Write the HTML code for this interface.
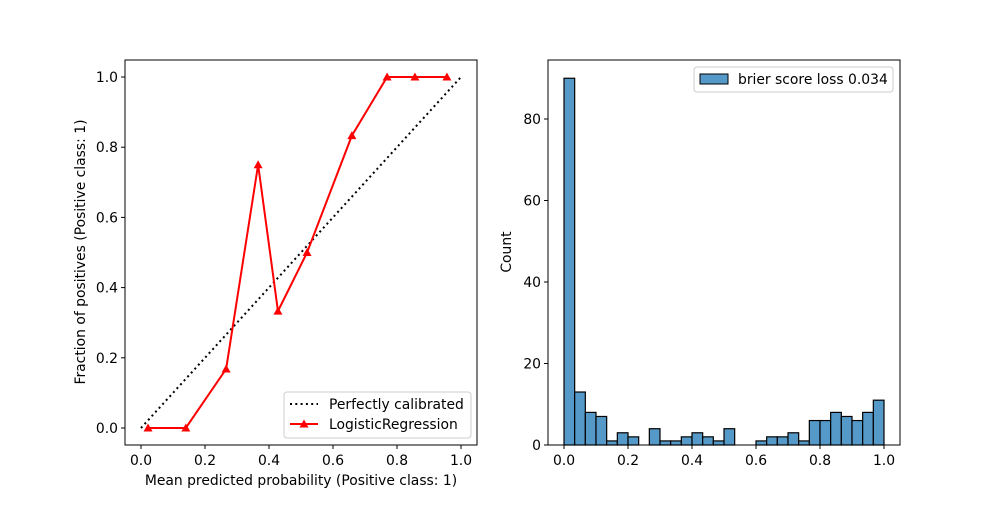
<!DOCTYPE html>
<html><head><meta charset="utf-8"><style>
body{margin:0;background:#fff}
text{font-family:"DejaVu Sans","Liberation Sans",sans-serif;font-size:13.9px;fill:#000}
</style></head><body>
<svg id="svg" width="1000" height="500" xmlns="http://www.w3.org/2000/svg">
<g id="left"></g>
<g id="right"></g>
</svg>
<script>
const calX=[0.022,0.14,0.266,0.366,0.428,0.519,0.659,0.769,0.856,0.956];
const calY=[0,0,0.168,0.75,0.333,0.5,0.833,1,1,1];
const calTicks=[0,0.2,0.4,0.6,0.8,1.0];
const histCounts=[90,13,8,7,1,3,2,0,4,1,1,2,3,2,1,4,0,0,1,2,2,3,1,6,6,8,7,6,8,11];
const histMin=0, histMax=1;
const histYTicks=[0,20,40,60,80];
const histXTicks=[0,0.2,0.4,0.6,0.8,1.0];

const NS="http://www.w3.org/2000/svg";
function mk(p,t,a,txt){const e=document.createElementNS(NS,t);for(const k in a)e.setAttribute(k,a[k]);if(txt!==undefined)e.textContent=txt;p.appendChild(e);return e;}
const L=document.getElementById('left'),R=document.getElementById('right');
const lx=v=>141+v*320, ly=v=>428-v*351;
const diag=mk(L,'line',{x1:lx(0),y1:ly(0),x2:lx(1),y2:ly(1),stroke:'#000','stroke-width':2,'stroke-dasharray':'2,3.3'});

const pl=mk(L,'polyline',{points:calX.map((x,i)=>lx(x)+','+ly(calY[i])).join(' '),fill:'none',stroke:'#f00','stroke-width':2});

calX.forEach((x,i)=>{const cx=lx(x),cy=ly(calY[i]);const m=mk(L,'polygon',{points:`${cx},${cy-4.5} ${cx-4.5},${cy+3.5} ${cx+4.5},${cy+3.5}`,fill:'#f00'});
});
mk(L,'rect',{x:125,y:60,width:352,height:385,fill:'none',stroke:'#000','stroke-width':1});
calTicks.forEach(t=>{mk(L,'line',{x1:lx(t),y1:445,x2:lx(t),y2:449,stroke:'#000'});
const a=mk(L,'text',{x:lx(t),y:465,'text-anchor':'middle'},t.toFixed(1));
mk(L,'line',{x1:121,y1:ly(t),x2:125,y2:ly(t),stroke:'#000'});
const b=mk(L,'text',{x:118,y:ly(t)+5,'text-anchor':'end'},t.toFixed(1));});
let t1=mk(L,'text',{x:301,y:485,'text-anchor':'middle'},'Mean predicted probability (Positive class: 1)');
let t2=mk(L,'text',{x:85,y:252,'text-anchor':'middle',transform:'rotate(-90 85 252)'},'Fraction of positives (Positive class: 1)');
const lg=mk(L,'g',{});
mk(lg,'rect',{x:284,y:392,width:187,height:46,rx:3,fill:'#fff',stroke:'#ccc'});
mk(lg,'line',{x1:290,y1:404,x2:318,y2:404,stroke:'#000','stroke-width':2,'stroke-dasharray':'2,3.3'});
mk(lg,'text',{x:329,y:409},'Perfectly calibrated');
mk(lg,'line',{x1:290,y1:424,x2:318,y2:424,stroke:'#f00','stroke-width':2});
mk(lg,'polygon',{points:'304,419.5 299.5,427.5 308.5,427.5',fill:'#f00'});
mk(lg,'text',{x:329,y:429},'LogisticRegression');
const rx=v=>564+(v-0)*320, ry=v=>445-v*4.075;
const bw=(histMax-histMin)/histCounts.length;
histCounts.forEach((c,i)=>{if(c<=0)return;const x0=rx(histMin+i*bw),x1=rx(histMin+(i+1)*bw);
const r=mk(R,'rect',{x:x0,y:ry(c),width:x1-x0,height:ry(0)-ry(c),fill:'#5599c8',stroke:'#000','stroke-width':1.2});
});
mk(R,'rect',{x:548,y:60,width:352,height:385,fill:'none',stroke:'#000','stroke-width':1});
histXTicks.forEach(t=>{mk(R,'line',{x1:rx(t),y1:445,x2:rx(t),y2:449,stroke:'#000'});
const a=mk(R,'text',{x:rx(t),y:465,'text-anchor':'middle'},t.toFixed(1));});
histYTicks.forEach(t=>{mk(R,'line',{x1:544,y1:ry(t),x2:548,y2:ry(t),stroke:'#000'});
const b=mk(R,'text',{x:541,y:ry(t)+5,'text-anchor':'end'},String(t));});
let t3=mk(R,'text',{x:511,y:252,'text-anchor':'middle',transform:'rotate(-90 511 252)'},'Count');
const lg2=mk(R,'g',{});
mk(lg2,'rect',{x:694,y:67,width:199,height:25,rx:3,fill:'#fff',stroke:'#ccc'});
mk(lg2,'rect',{x:700,y:74,width:28,height:10,fill:'#5599c8',stroke:'#000'});
mk(lg2,'text',{x:738,y:84},'brier score loss 0.034');
</script>
</body></html>
